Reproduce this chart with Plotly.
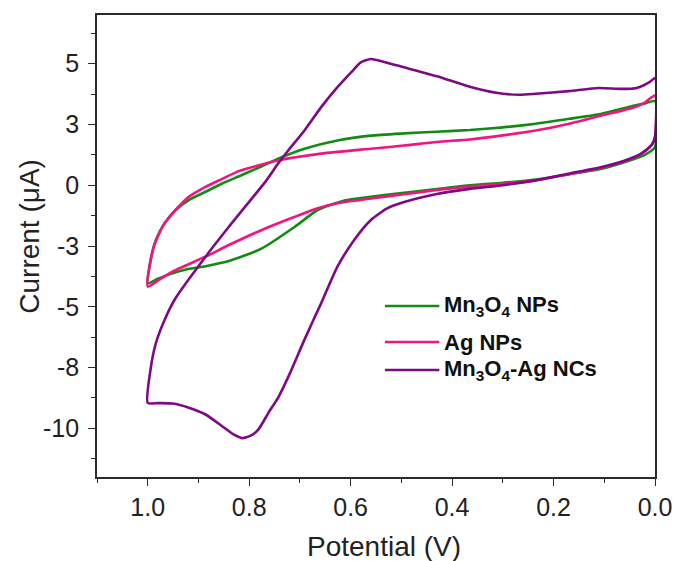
import plotly.graph_objects as go

# ---- Cyclic voltammograms: potential (V) and current (uA), each loop closed ----
# Mn3O4 NPs
mn_x = [0.000, 0.020, 0.040, 0.105, 0.169, 0.235, 0.300, 0.365, 0.430, 0.495, 0.560, 0.626,
        0.691, 0.743, 0.788, 0.821, 0.853, 0.886, 0.919, 0.945, 0.967, 0.984, 0.996, 1.000,
        0.980, 0.951, 0.920, 0.886, 0.840, 0.775, 0.710, 0.665, 0.612, 0.560, 0.508, 0.430,
        0.365, 0.300, 0.235, 0.169, 0.105, 0.053, 0.020, 0.000, 0.000]
mn_y = [3.46, 3.36, 3.28, 2.94, 2.73, 2.53, 2.38, 2.27, 2.20, 2.13, 2.04, 1.84,
        1.50, 1.09, 0.66, 0.36, 0.07, -0.27, -0.61, -1.02, -1.57, -2.25, -3.30, -4.03,
        -3.85, -3.62, -3.45, -3.33, -3.12, -2.60, -1.71, -1.02, -0.63, -0.48, -0.34, -0.16,
        0.00, 0.10, 0.23, 0.45, 0.68, 1.00, 1.25, 1.57, 3.46]

# Ag NPs
ag_x = [0.000, 0.020, 0.040, 0.105, 0.169, 0.235, 0.300, 0.365, 0.430, 0.495, 0.560, 0.658,
        0.743, 0.788, 0.821, 0.853, 0.886, 0.919, 0.951, 0.971, 0.990, 1.000,
        0.975, 0.951, 0.886, 0.840, 0.775, 0.710, 0.665, 0.626, 0.560, 0.495, 0.430, 0.365,
        0.300, 0.235, 0.169, 0.105, 0.059, 0.027, 0.007, 0.000, 0.000]
ag_y = [3.69, 3.40, 3.21, 2.87, 2.53, 2.25, 2.05, 1.88, 1.78, 1.63, 1.50, 1.30,
        1.02, 0.78, 0.58, 0.26, -0.07, -0.48, -1.16, -1.71, -2.66, -4.17,
        -3.85, -3.55, -2.94, -2.46, -1.84, -1.30, -0.95, -0.74, -0.55, -0.37, -0.20, -0.06,
        0.06, 0.20, 0.45, 0.72, 1.00, 1.30, 1.64, 1.98, 3.69]

# Mn3O4-Ag NCs
nc_x = [0.000, 0.010, 0.036, 0.066, 0.111, 0.170, 0.235, 0.267, 0.313, 0.365, 0.430, 0.495,
        0.530, 0.560, 0.580, 0.599, 0.626, 0.658, 0.691, 0.723, 0.743, 0.766, 0.840, 0.886,
        0.945, 0.967, 0.984, 0.995, 1.000,
        0.980, 0.951, 0.919, 0.886, 0.854, 0.830, 0.814, 0.797, 0.782, 0.762, 0.742, 0.720,
        0.691, 0.658, 0.626, 0.593, 0.560, 0.528, 0.496, 0.430, 0.365, 0.300, 0.235,
        0.169, 0.105, 0.059, 0.027, 0.007, 0.000, 0.000]
nc_y = [4.41, 4.25, 4.00, 3.96, 4.00, 3.87, 3.76, 3.72, 3.80, 4.05, 4.48, 4.85,
        5.05, 5.19, 5.05, 4.64, 4.03, 3.21, 2.25, 1.43, 0.89, 0.20, -1.71, -2.94,
        -4.64, -5.55, -6.50, -7.65, -8.95,
        -8.96, -8.98, -9.15, -9.43, -9.90, -10.26, -10.40, -10.30, -10.05, -9.36, -8.70, -7.75,
        -6.35, -4.85, -3.35, -2.25, -1.43, -0.95, -0.70, -0.36, -0.15, 0.00, 0.20,
        0.48, 0.75, 1.02, 1.30, 1.64, 1.98, 4.41]

series = [
    ("Mn<sub>3</sub>O<sub>4</sub> NPs", mn_x, mn_y, "#138a13"),
    ("Ag NPs", ag_x, ag_y, "#f0157f"),
    ("Mn<sub>3</sub>O<sub>4</sub>-Ag NCs", nc_x, nc_y, "#7d0a83"),
]

# axis ticks
x_major = [1.0, 0.8, 0.6, 0.4, 0.2, 0.0]
x_major_text = ["1.0", "0.8", "0.6", "0.4", "0.2", "0.0"]
x_minor = [1.1, 0.9, 0.7, 0.5, 0.3, 0.1]
y_major = [5, 2.5, 0, -2.5, -5, -7.5, -10]
y_major_text = ["5", "3", "0", "-3", "-5", "-8", "-10"]
y_minor = [6.25, 3.75, 1.25, -1.25, -3.75, -6.25, -8.75, -11.25]

W, H = 684, 561
L, R, T, B = 97, 23, 15, 84
PW, PH = W - L - R, H - T - B
FONT = "Liberation Sans, Arial, Helvetica, sans-serif"
AXC = "#2b2b2b"


def px(xp):
    return (xp - L) / PW


def py(yp):
    return (H - B - yp) / PH


fig = go.Figure()
for name, xs, ys, col in series:
    fig.add_trace(go.Scatter(x=xs, y=ys, mode="lines", name=name,
                             line=dict(color=col, width=2.6, shape="spline", smoothing=0.6),
                             showlegend=False))

axis_common = dict(showline=True, linecolor=AXC, linewidth=1.6, mirror=True,
                   ticks="outside", ticklen=7, tickwidth=1.4, tickcolor=AXC,
                   showgrid=False, zeroline=False,
                   tickfont=dict(family=FONT, size=25, color="#222"))

fig.update_xaxes(range=[1.1, 0.0], tickvals=x_major, ticktext=x_major_text,
                 minor=dict(tickvals=x_minor, ticks="outside", ticklen=4,
                            tickwidth=1.4, tickcolor=AXC),
                 **axis_common)
fig.update_yaxes(range=[-12, 7], tickvals=y_major, ticktext=y_major_text,
                 minor=dict(tickvals=y_minor, ticks="outside", ticklen=4,
                            tickwidth=1.4, tickcolor=AXC),
                 ticklabelstandoff=4,
                 **axis_common)

annotations = [
    dict(text="Potential (V)", x=px(387), y=py(546), xref="paper", yref="paper",
         showarrow=False, font=dict(family=FONT, size=28, color="#222"),
         xanchor="center", yanchor="middle"),
    dict(text="Current (\u03bcA)", x=px(29), y=py(236), xref="paper", yref="paper",
         showarrow=False, textangle=-90, font=dict(family=FONT, size=28, color="#222"),
         xanchor="center", yanchor="middle"),
]

# legend drawn as line samples with bold labels
shapes = []
legend_rows = [306, 342, 370]
for (name, _, _, col), yrow in zip(series, legend_rows):
    shapes.append(dict(type="line", xref="paper", yref="paper",
                       x0=px(388), x1=px(443), y0=py(yrow), y1=py(yrow),
                       line=dict(color=col, width=2.6)))
    annotations.append(dict(text="<b>" + name + "</b>", x=px(446), y=py(yrow),
                            xref="paper", yref="paper", showarrow=False,
                            xanchor="left", yanchor="middle",
                            font=dict(family=FONT, size=22, color="#111")))

fig.update_layout(width=W, height=H, margin=dict(l=L, r=R, t=T, b=B),
                  paper_bgcolor="white", plot_bgcolor="white",
                  annotations=annotations, shapes=shapes, showlegend=False)

fig.write_html("out.html")
